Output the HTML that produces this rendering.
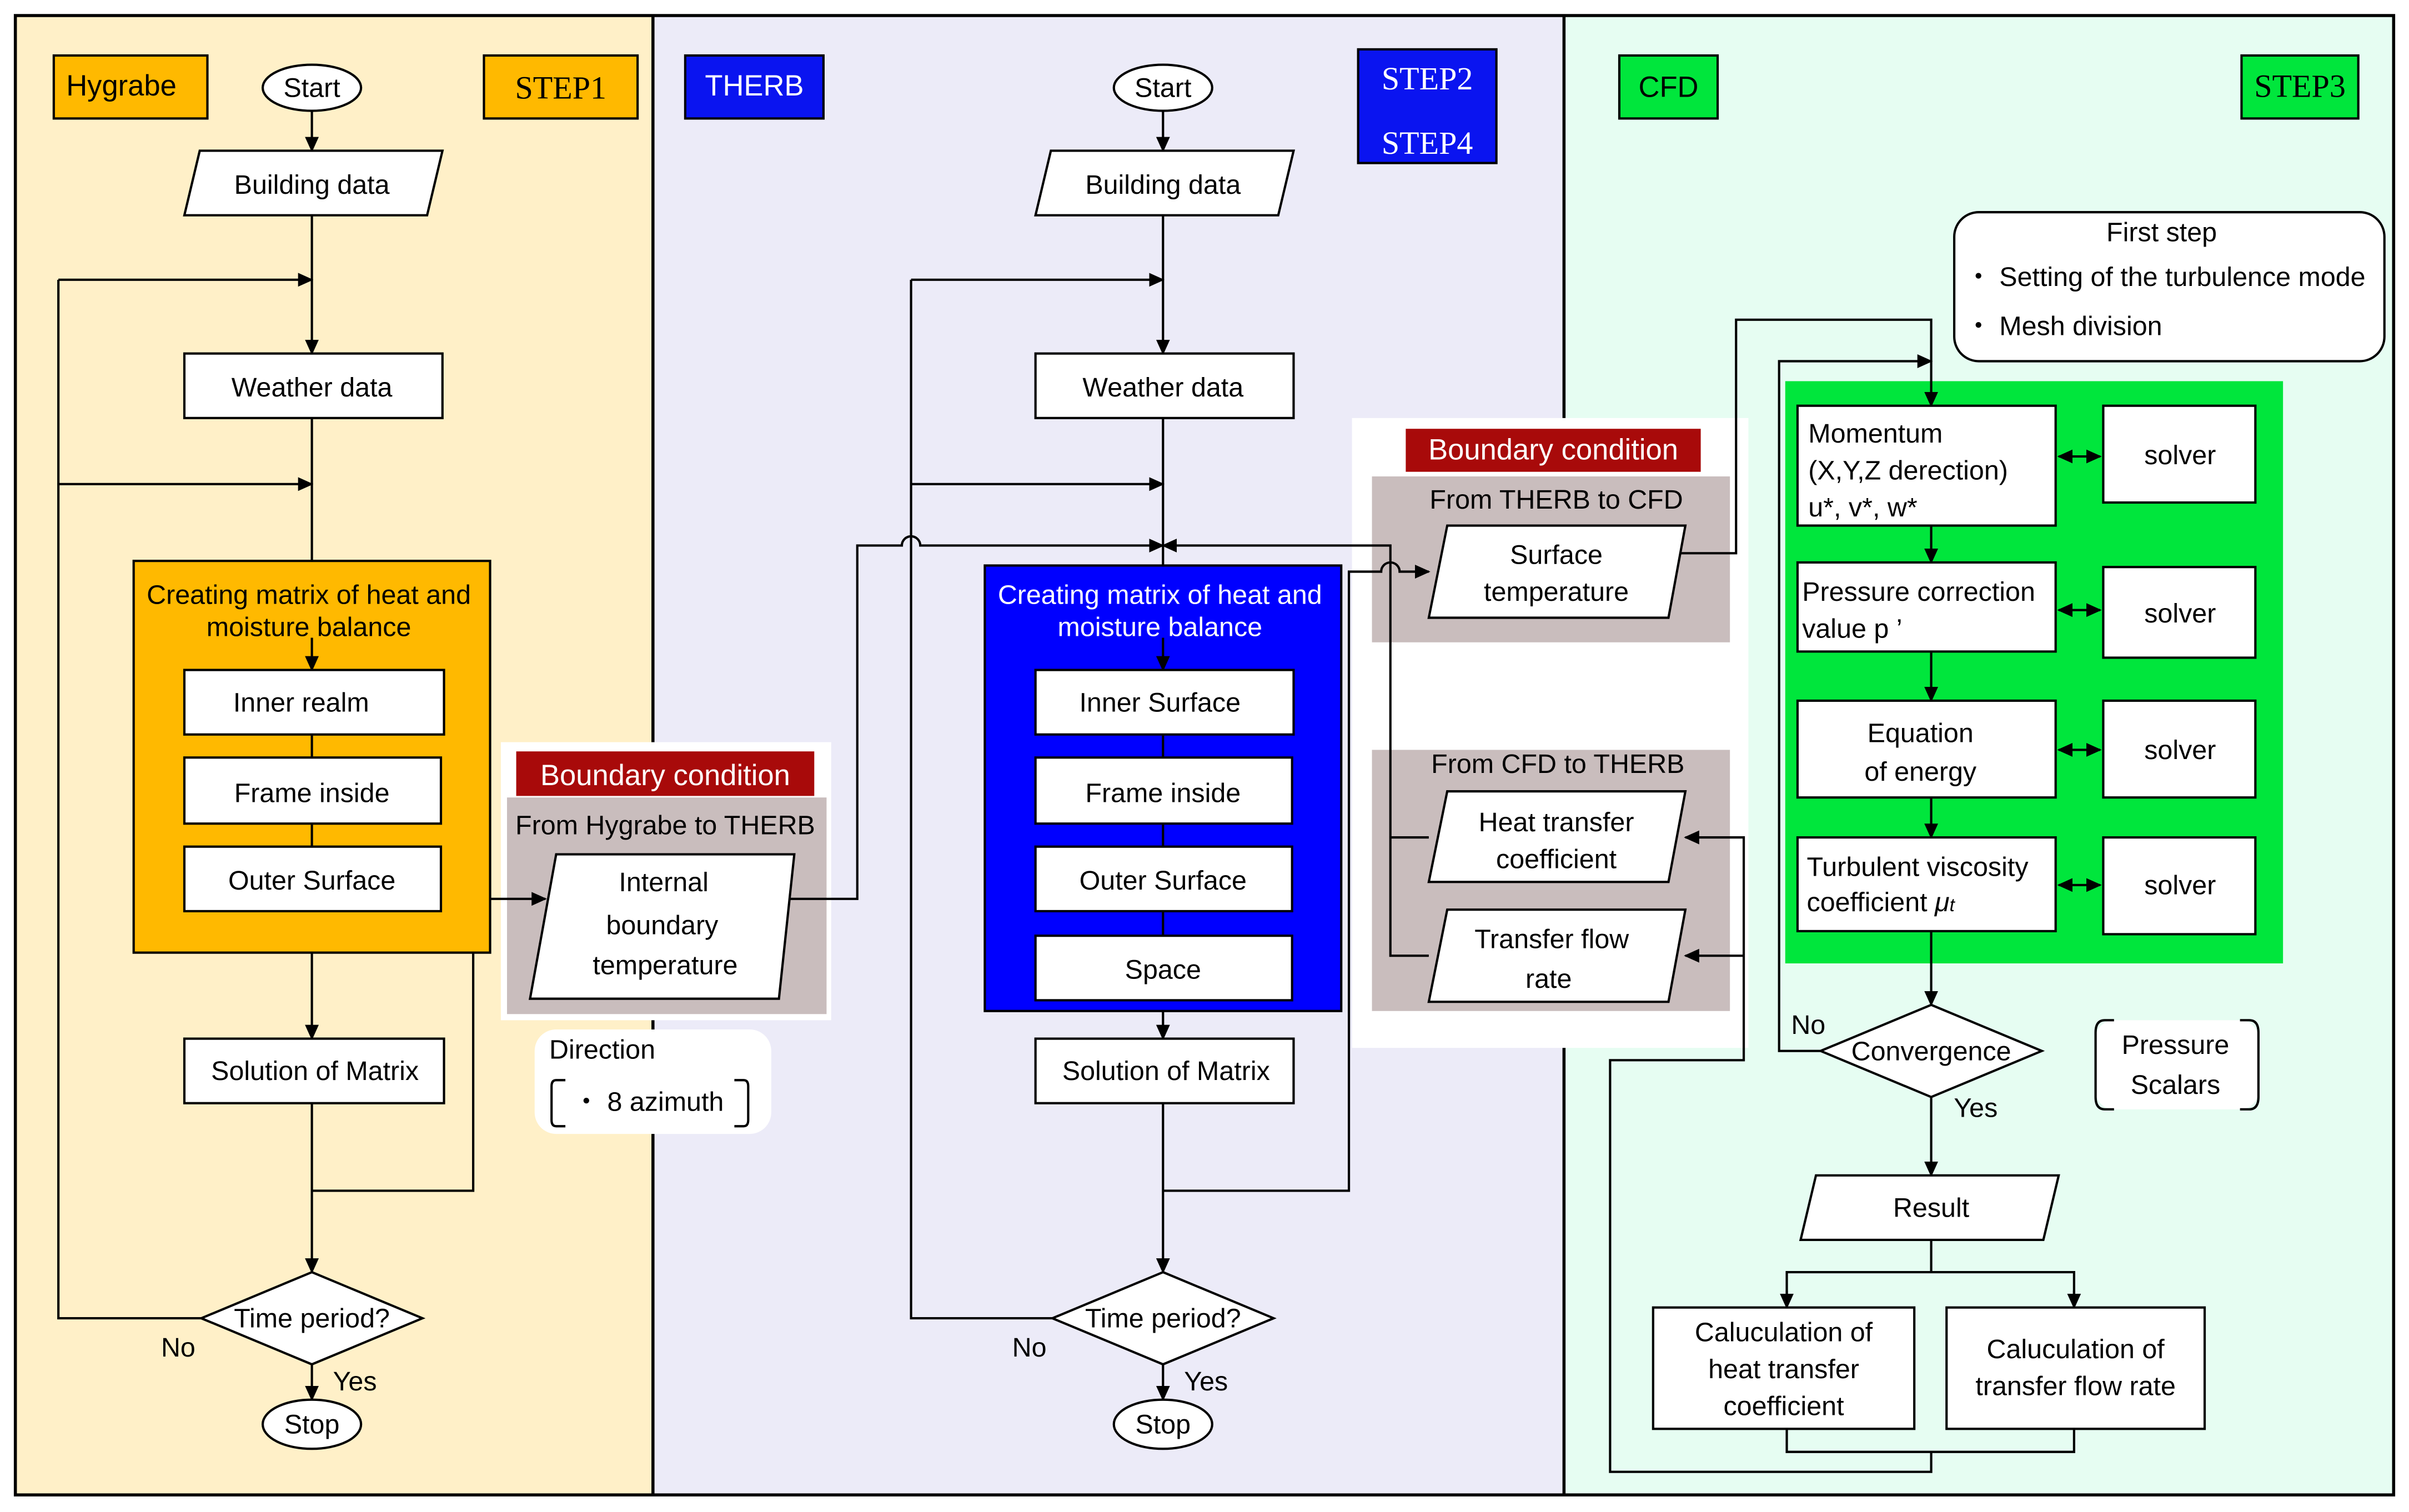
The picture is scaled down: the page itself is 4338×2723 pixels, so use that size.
<!DOCTYPE html>
<html><head><meta charset="utf-8"><style>html,body{margin:0;padding:0;background:#fff}svg{display:block}</style></head><body>
<svg xmlns="http://www.w3.org/2000/svg" width="4338" height="2723" viewBox="0 0 1568 984" font-family="Liberation Sans, Arial, sans-serif" font-size="17.5">
<defs><marker id="a" markerWidth="10" markerHeight="10" refX="9" refY="5" orient="auto" markerUnits="userSpaceOnUse"><path d="M0,0.5 L10,5 L0,9.5 z" fill="#000"/></marker>
<marker id="s" markerWidth="10" markerHeight="10" refX="1" refY="5" orient="auto" markerUnits="userSpaceOnUse"><path d="M10,0.5 L0,5 L10,9.5 z" fill="#000"/></marker></defs>
<rect x="0" y="0" width="1568" height="984" fill="#fff"/>
<rect x="10" y="10" width="415" height="963" fill="#fff0c8"/>
<rect x="425" y="10" width="593" height="963" fill="#ecebf8"/>
<rect x="1018" y="10" width="540" height="963" fill="#e6fdf2"/>
<g stroke="#000" stroke-width="2" fill="none"><rect x="10" y="10" width="1548" height="963"/><line x1="425" y1="10" x2="425" y2="973"/><line x1="1018" y1="10" x2="1018" y2="973"/></g>

<!-- boundary backgrounds first -->
<rect x="326" y="483" width="215" height="181" fill="#fff"/>
<rect x="330" y="519" width="208" height="141" fill="#c9bdbd"/>
<rect x="336" y="489" width="194" height="29" fill="#a80a0a"/>
<rect x="348" y="670" width="154" height="68" rx="14" fill="#fff"/>
<rect x="880" y="272" width="258" height="410" fill="#fff"/>
<rect x="893" y="310" width="233" height="108" fill="#c9bdbd"/>
<rect x="893" y="488" width="233" height="170" fill="#c9bdbd"/>
<rect x="915" y="279" width="192" height="28" fill="#a80a0a"/>
<rect x="1162" y="248" width="324" height="379" fill="#00e63c"/>
<rect x="1272" y="138" width="280" height="97" rx="16" fill="#fff" stroke="#000" stroke-width="1.5"/>
<rect x="1364" y="664" width="106" height="58" rx="12" fill="#fff"/>

<g stroke="#000" stroke-width="1.5">
<!-- connectors -->
<g fill="none">
<line x1="203" y1="72" x2="203" y2="98" marker-end="url(#a)"/>
<line x1="203" y1="140" x2="203" y2="230" marker-end="url(#a)"/>
<line x1="38" y1="182" x2="203" y2="182" marker-end="url(#a)"/>
<line x1="203" y1="272" x2="203" y2="365"/>
<line x1="38" y1="315" x2="203" y2="315" marker-end="url(#a)"/>
<line x1="203" y1="620" x2="203" y2="676" marker-end="url(#a)"/>
<line x1="203" y1="718" x2="203" y2="828" marker-end="url(#a)"/>
<polyline points="203,775 308,775 308,585 355,585" marker-end="url(#a)"/>
<polyline points="131,858 38,858 38,182"/>
<line x1="203" y1="888" x2="203" y2="911" marker-end="url(#a)"/>

<line x1="757" y1="72" x2="757" y2="98" marker-end="url(#a)"/>
<line x1="757" y1="140" x2="757" y2="230" marker-end="url(#a)"/>
<line x1="593" y1="182" x2="757" y2="182" marker-end="url(#a)"/>
<line x1="757" y1="272" x2="757" y2="368"/>
<line x1="593" y1="315" x2="757" y2="315" marker-end="url(#a)"/>
<path d="M512,585 H558 V355 H587 a6,6 0 0 1 12,0 H757" marker-end="url(#a)"/>
<polyline points="930,622 905,622 905,355 757,355" marker-end="url(#a)"/>
<line x1="905" y1="545" x2="930" y2="545"/>
<line x1="757" y1="658" x2="757" y2="676" marker-end="url(#a)"/>
<line x1="757" y1="718" x2="757" y2="828" marker-end="url(#a)"/>
<polyline points="685,858 593,858 593,182"/>
<line x1="757" y1="888" x2="757" y2="911" marker-end="url(#a)"/>
<path d="M757,775 H878 V372 H899 a6,6 0 0 1 12,0 H930" marker-end="url(#a)"/>
<polyline points="1092,360 1130,360 1130,208 1257,208 1257,264" marker-end="url(#a)"/>
<polyline points="1135,622 1135,545 1097,545" marker-end="url(#a)"/>
<line x1="1135" y1="622" x2="1097" y2="622" marker-end="url(#a)"/>
<polyline points="1135,622 1135,690 1048,690 1048,958 1257,958 1257,945"/>

<polyline points="1185,684 1158,684 1158,235 1257,235" marker-end="url(#a)"/>
<line x1="1257" y1="342" x2="1257" y2="366" marker-end="url(#a)"/>
<line x1="1257" y1="424" x2="1257" y2="456" marker-end="url(#a)"/>
<line x1="1257" y1="519" x2="1257" y2="545" marker-end="url(#a)"/>
<line x1="1257" y1="606" x2="1257" y2="654" marker-end="url(#a)"/>
<line x1="1340" y1="297" x2="1367" y2="297" marker-start="url(#s)" marker-end="url(#a)"/>
<line x1="1340" y1="397" x2="1367" y2="397" marker-start="url(#s)" marker-end="url(#a)"/>
<line x1="1340" y1="488" x2="1367" y2="488" marker-start="url(#s)" marker-end="url(#a)"/>
<line x1="1340" y1="576" x2="1367" y2="576" marker-start="url(#s)" marker-end="url(#a)"/>
<line x1="1257" y1="714" x2="1257" y2="765" marker-end="url(#a)"/>
<polyline points="1257,807 1257,828"/>
<polyline points="1163,851 1163,828 1350,828 1350,851"/>
<line x1="1163" y1="840" x2="1163" y2="851" marker-end="url(#a)"/>
<line x1="1350" y1="840" x2="1350" y2="851" marker-end="url(#a)"/>
<polyline points="1163,930 1163,945 1350,945 1350,930"/>
</g>

<!-- Left panel shapes -->
<rect x="35" y="36" width="100" height="41" fill="#ffb900"/>
<rect x="315" y="36" width="100" height="41" fill="#ffb900"/>
<ellipse cx="203" cy="57" rx="32" ry="15" fill="#fff"/>
<polygon points="130,98 288,98 278,140 120,140" fill="#fff"/>
<rect x="120" y="230" width="168" height="42" fill="#fff"/>
<rect x="87" y="365" width="232" height="255" fill="#ffb900"/>
<line x1="203" y1="415" x2="203" y2="436" marker-end="url(#a)" fill="none"/>
<line x1="203" y1="478" x2="203" y2="551" fill="none"/>
<rect x="120" y="436" width="169" height="42" fill="#fff"/>
<rect x="120" y="493" width="167" height="43" fill="#fff"/>
<rect x="120" y="551" width="167" height="42" fill="#fff"/>
<rect x="120" y="676" width="169" height="42" fill="#fff"/>
<polygon points="203,828 275,858 203,888 131,858" fill="#fff"/>
<ellipse cx="203" cy="927" rx="32" ry="16" fill="#fff"/>
<polygon points="362,556 517,556 507,650 345,650" fill="#fff"/>
<path d="M368,703 h-6 q-3,0 -3,4 v22 q0,4 3,4 h6 M478,703 h6 q3,0 3,4 v22 q0,4 -3,4 h-6" fill="none"/>

<!-- Middle panel shapes -->
<rect x="446" y="36" width="90" height="41" fill="#0a14f0"/>
<rect x="884" y="32" width="90" height="74" fill="#0a14f0"/>
<ellipse cx="757" cy="57" rx="32" ry="15" fill="#fff"/>
<polygon points="684,98 842,98 832,140 674,140" fill="#fff"/>
<rect x="674" y="230" width="168" height="42" fill="#fff"/>
<rect x="641" y="368" width="232" height="290" fill="#0000ff"/>
<line x1="757" y1="415" x2="757" y2="436" marker-end="url(#a)" fill="none"/>
<line x1="757" y1="478" x2="757" y2="609" fill="none"/>
<rect x="674" y="436" width="168" height="42" fill="#fff"/>
<rect x="674" y="493" width="167" height="43" fill="#fff"/>
<rect x="674" y="551" width="167" height="42" fill="#fff"/>
<rect x="674" y="609" width="167" height="42" fill="#fff"/>
<rect x="674" y="676" width="168" height="42" fill="#fff"/>
<polygon points="757,828 829,858 757,888 685,858" fill="#fff"/>
<ellipse cx="757" cy="927" rx="32" ry="16" fill="#fff"/>
<polygon points="942,342 1097,342 1086,402 930,402" fill="#fff"/>
<polygon points="942,515 1097,515 1086,574 930,574" fill="#fff"/>
<polygon points="942,592 1097,592 1086,652 930,652" fill="#fff"/>

<!-- Right panel shapes -->
<rect x="1054" y="36" width="64" height="41" fill="#00e63c"/>
<rect x="1459" y="36" width="76" height="41" fill="#00e63c"/>
<rect x="1170" y="264" width="168" height="78" fill="#fff"/>
<rect x="1170" y="366" width="168" height="58" fill="#fff"/>
<rect x="1170" y="456" width="168" height="63" fill="#fff"/>
<rect x="1170" y="545" width="168" height="61" fill="#fff"/>
<rect x="1369" y="264" width="99" height="63" fill="#fff"/>
<rect x="1369" y="369" width="99" height="59" fill="#fff"/>
<rect x="1369" y="456" width="99" height="63" fill="#fff"/>
<rect x="1369" y="545" width="99" height="63" fill="#fff"/>
<polygon points="1257,654 1329,684 1257,714 1185,684" fill="#fff"/>
<path d="M1376,664 h-6 q-6,0 -6,8 v42 q0,8 6,8 h6 M1458,664 h6 q6,0 6,8 v42 q0,8 -6,8 h-6" fill="none"/>
<polygon points="1182,765 1340,765 1330,807 1172,807" fill="#fff"/>
<rect x="1076" y="851" width="170" height="79" fill="#fff"/>
<rect x="1267" y="851" width="168" height="79" fill="#fff"/>
</g>

<g text-anchor="middle" fill="#000">
<text x="79" y="62" font-size="19">Hygrabe</text>
<text x="365" y="64" font-size="21" font-family="Liberation Serif, serif">STEP1</text>
<text x="203" y="63">Start</text>
<text x="203" y="126">Building data</text>
<text x="203" y="258">Weather data</text>
<text x="201" y="393">Creating matrix of heat and</text>
<text x="201" y="414">moisture balance</text>
<text x="196" y="463">Inner realm</text>
<text x="203" y="522">Frame inside</text>
<text x="203" y="579">Outer Surface</text>
<text x="205" y="703">Solution of Matrix</text>
<text x="203" y="864">Time period?</text>
<text x="116" y="883">No</text>
<text x="231" y="905">Yes</text>
<text x="203" y="933">Stop</text>
<text x="433" y="511" font-size="19" fill="#fff">Boundary condition</text>
<text x="433" y="543">From Hygrabe to THERB</text>
<text x="432" y="580">Internal</text>
<text x="431" y="608">boundary</text>
<text x="433" y="634">temperature</text>
<text x="392" y="689">Direction</text>
<text x="422" y="723">・ 8 azimuth</text>

<text x="491" y="62" font-size="19" fill="#fff">THERB</text>
<text x="929" y="58" font-size="21" fill="#fff" font-family="Liberation Serif, serif">STEP2</text>
<text x="929" y="100" font-size="21" fill="#fff" font-family="Liberation Serif, serif">STEP4</text>
<text x="757" y="63">Start</text>
<text x="757" y="126">Building data</text>
<text x="757" y="258">Weather data</text>
<text x="755" y="393" fill="#fff">Creating matrix of heat and</text>
<text x="755" y="414" fill="#fff">moisture balance</text>
<text x="755" y="463">Inner Surface</text>
<text x="757" y="522">Frame inside</text>
<text x="757" y="579">Outer Surface</text>
<text x="757" y="637">Space</text>
<text x="759" y="703">Solution of Matrix</text>
<text x="757" y="864">Time period?</text>
<text x="670" y="883">No</text>
<text x="785" y="905">Yes</text>
<text x="757" y="933">Stop</text>
<text x="1011" y="299" font-size="19" fill="#fff">Boundary condition</text>
<text x="1013" y="331">From THERB to CFD</text>
<text x="1013" y="367">Surface</text>
<text x="1013" y="391">temperature</text>
<text x="1014" y="503">From CFD to THERB</text>
<text x="1013" y="541">Heat transfer</text>
<text x="1013" y="565">coefficient</text>
<text x="1010" y="617">Transfer flow</text>
<text x="1008" y="643">rate</text>

<text x="1086" y="63" font-size="19">CFD</text>
<text x="1497" y="63" font-size="21" font-family="Liberation Serif, serif">STEP3</text>
<text x="1407" y="157">First step</text>
<text x="1419" y="302">solver</text>
<text x="1419" y="405">solver</text>
<text x="1419" y="494">solver</text>
<text x="1419" y="582">solver</text>
<text x="1250" y="483">Equation</text>
<text x="1250" y="508">of energy</text>
<text x="1257" y="690">Convergence</text>
<text x="1177" y="673">No</text>
<text x="1286" y="727">Yes</text>
<text x="1416" y="686">Pressure</text>
<text x="1416" y="712">Scalars</text>
<text x="1257" y="792">Result</text>
<text x="1161" y="873">Caluculation of</text>
<text x="1161" y="897">heat transfer</text>
<text x="1161" y="921">coefficient</text>
<text x="1351" y="884">Caluculation of</text>
<text x="1351" y="908">transfer flow rate</text>
</g>
<g fill="#000">
<text x="1279" y="186">・ Setting of the turbulence mode</text>
<text x="1279" y="218">・ Mesh division</text>
<text x="1177" y="288">Momentum</text>
<text x="1177" y="312">(X,Y,Z derection)</text>
<text x="1177" y="336">u*, v*, w*</text>
<text x="1173" y="391">Pressure correction</text>
<text x="1173" y="415">value  p ’</text>
<text x="1176" y="570">Turbulent viscosity</text>
<text x="1176" y="593">coefficient <tspan font-style="italic">μ</tspan><tspan font-style="italic" font-size="12">t</tspan></text>
</g>
</svg>
</body></html>
